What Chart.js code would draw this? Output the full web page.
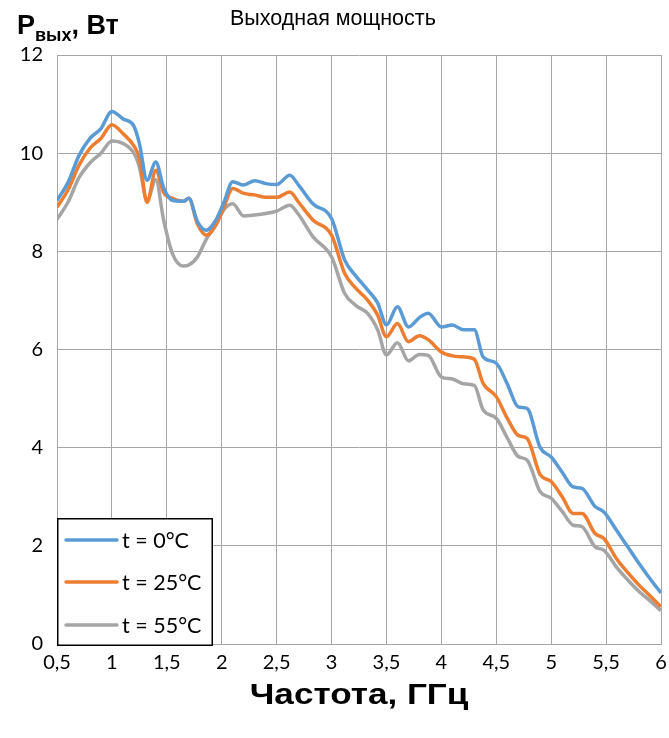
<!DOCTYPE html>
<html><head><meta charset="utf-8">
<script src="https://cdn.jsdelivr.net/npm/chart.js@4/dist/chart.umd.min.js"></script>
<style>
html,body{margin:0;padding:0;background:#fff;}
#wrap{position:relative;width:669px;height:738px;overflow:hidden;}
canvas{position:absolute;left:0;top:0;}
.t{position:absolute;white-space:nowrap;color:#000;line-height:1;}
</style></head><body>
<div id="wrap">
<canvas id="c" width="669" height="738"></canvas>
<div class="t" style="left:230px;top:8px;font-family:'Liberation Sans Narrow','Arial Narrow',sans-serif;font-size:21.5px;">Выходная мощность</div>
<div class="t" style="left:17px;top:12px;font-family:'Liberation Sans Narrow','Arial Narrow',sans-serif;font-weight:bold;font-size:27px;">P<span style="font-size:18px;position:relative;top:7px;">вых</span>, Вт</div>
<div class="t" style="left:209px;width:300px;text-align:center;top:679px;font-family:'Liberation Sans Narrow','Arial Narrow',sans-serif;font-weight:bold;font-size:30px;transform:scaleX(1.17);transform-origin:50% 50%;">Частота, ГГц</div>
</div>
<script>
const freq = [0.5,0.6,0.7,0.8,0.9,1.0,1.1,1.2,1.25,1.32,1.4,1.47,1.55,1.65,1.7,1.78,1.86,1.95,2.02,2.1,2.2,2.3,2.4,2.5,2.62,2.7,2.83,3.0,3.12,3.22,3.33,3.42,3.5,3.6,3.7,3.8,3.88,4.0,4.1,4.2,4.3,4.38,4.5,4.6,4.7,4.78,4.9,5.0,5.1,5.2,5.28,5.4,5.48,5.6,5.7,5.8,5.9,6.0];
const p0 = [9.04,9.4,9.95,10.3,10.5,10.85,10.7,10.55,10.2,9.45,9.82,9.3,9.04,9.02,9.08,8.6,8.43,8.65,9.0,9.42,9.35,9.44,9.38,9.36,9.55,9.35,8.97,8.67,7.82,7.5,7.21,6.95,6.5,6.87,6.46,6.65,6.74,6.46,6.5,6.4,6.4,5.85,5.72,5.3,4.83,4.8,4.0,3.81,3.5,3.2,3.17,2.8,2.69,2.3,1.97,1.64,1.33,1.04];
const p25 = [8.9,9.25,9.75,10.1,10.3,10.58,10.4,10.15,9.9,9.0,9.65,9.2,9.08,9.02,9.08,8.55,8.33,8.55,8.9,9.28,9.18,9.15,9.1,9.1,9.21,9.0,8.64,8.33,7.55,7.25,7.0,6.7,6.26,6.53,6.16,6.28,6.2,5.95,5.87,5.85,5.8,5.31,5.04,4.6,4.25,4.19,3.45,3.31,3.0,2.66,2.66,2.25,2.15,1.72,1.45,1.2,0.98,0.76];
const p55 = [8.65,9.0,9.5,9.8,10.0,10.25,10.2,10.0,9.72,9.04,9.46,8.65,7.96,7.7,7.72,7.89,8.25,8.55,8.85,8.97,8.72,8.74,8.77,8.82,8.94,8.75,8.3,7.89,7.14,6.9,6.73,6.4,5.89,6.14,5.77,5.9,5.88,5.44,5.4,5.3,5.27,4.77,4.6,4.2,3.82,3.75,3.1,2.97,2.7,2.42,2.39,1.98,1.91,1.55,1.3,1.07,0.88,0.68];
const seriesLabels = ['t = 0°C','t = 25°C','t = 55°C'];
const xTicks = [0.5,1,1.5,2,2.5,3,3.5,4,4.5,5,5.5,6];
const yTicks = [0,2,4,6,8,10,12];
const colors = ['#5B9BD5','#ED7D31','#A5A5A5'];

const mk = (arr) => freq.map((f,i)=>({x:f,y:arr[i]}));
const legendBox = {
  id:'legendBox',
  afterDraw(chart){
    const ctx = chart.ctx;
    const x0 = 57, y0 = 518, w = 156, h = 128;
    ctx.save();
    ctx.fillStyle = '#fff';
    ctx.fillRect(x0,y0,w,h);
    ctx.strokeStyle = '#000';
    ctx.lineWidth = 1.5;
    ctx.strokeRect(x0+0.75,y0+0.75,w-1.5,h-1.5);
    const ys = [540,582,625];
    chart.data.datasets.forEach((ds,i)=>{
      ctx.strokeStyle = ds.borderColor;
      ctx.lineWidth = 3.5;
      ctx.lineCap = 'round';
      ctx.beginPath();
      ctx.moveTo(66,ys[i]); ctx.lineTo(117,ys[i]); ctx.stroke();
      ctx.fillStyle = '#000';
      ctx.font = '21.5px Lato, "Open Sans", sans-serif';
      ctx.textBaseline = 'middle';
      ctx.fillText(ds.label,122,ys[i]+1);
    });
    ctx.restore();
  }
};

new Chart(document.getElementById('c'),{
  type:'line',
  data:{datasets:[
    {label:seriesLabels[0],data:mk(p0),borderColor:colors[0]},
    {label:seriesLabels[1],data:mk(p25),borderColor:colors[1]},
    {label:seriesLabels[2],data:mk(p55),borderColor:colors[2]}
  ].map(d=>Object.assign(d,{borderWidth:3.5,pointRadius:0,fill:false,cubicInterpolationMode:'monotone'}))},
  options:{
    responsive:false,animation:false,
    layout:{padding:{top:55,right:0,left:0,bottom:0}},
    plugins:{legend:{display:false},tooltip:{enabled:false}},
    scales:{
      x:{type:'linear',min:0.5,max:6,
        afterBuildTicks(s){s.ticks = xTicks.map(v=>({value:v}));},
        afterFit(s){s.height = 94; s.paddingRight = 8; s.paddingLeft = 0;},
        grid:{color:'#a6a6a6',lineWidth:1,drawTicks:false},
        border:{color:'#a6a6a6',width:1},
        ticks:{padding:7,color:'#000',font:{family:'Lato',size:20},maxRotation:0,autoSkip:false,
          callback:(v)=>String(v).replace('.',',')}
      },
      y:{min:0,max:12,
        afterBuildTicks(s){s.ticks = yTicks.map(v=>({value:v}));},
        afterFit(s){s.width = 57;},
        grid:{color:'#a6a6a6',lineWidth:1,drawTicks:false},
        border:{color:'#a6a6a6',width:1},
        ticks:{padding:14,color:'#000',font:{family:'Lato',size:20}}
      }
    }
  },
  plugins:[legendBox]
});
</script>
</body></html>
